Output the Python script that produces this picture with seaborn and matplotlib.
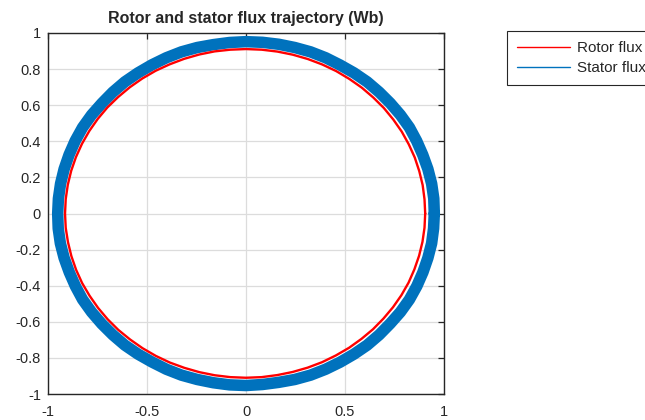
import matplotlib
matplotlib.use('Agg')
import numpy as np
import pandas as pd
import matplotlib.pyplot as plt
import seaborn as sns

angle_deg = list(range(0, 365, 5))
rotor_r = [0.905, 0.905, 0.906, 0.906, 0.907, 0.907, 0.908, 0.908, 0.909, 0.909, 0.910, 0.910,
           0.911, 0.911, 0.911, 0.911, 0.911, 0.911, 0.911, 0.911, 0.912, 0.912, 0.912, 0.912,
           0.913, 0.913, 0.913, 0.913, 0.914, 0.914, 0.914, 0.914, 0.914, 0.914, 0.914, 0.914,
           0.914, 0.914, 0.913, 0.913, 0.913, 0.913, 0.912, 0.912, 0.912, 0.912, 0.911, 0.911,
           0.911, 0.911, 0.910, 0.910, 0.910, 0.910, 0.910, 0.910, 0.909, 0.909, 0.909, 0.909,
           0.908, 0.908, 0.907, 0.907, 0.906, 0.906, 0.906, 0.906, 0.905, 0.905, 0.905, 0.905,
           0.905]
stator_r = [0.951, 0.952, 0.952, 0.951, 0.950, 0.951, 0.953, 0.952, 0.951, 0.951, 0.952, 0.951,
            0.950, 0.952, 0.953, 0.952, 0.952, 0.952, 0.952, 0.951, 0.950, 0.952, 0.953, 0.952,
            0.951, 0.951, 0.952, 0.951, 0.950, 0.952, 0.953, 0.952, 0.951, 0.951, 0.951, 0.951,
            0.951, 0.952, 0.952, 0.951, 0.950, 0.951, 0.953, 0.952, 0.951, 0.951, 0.952, 0.951,
            0.950, 0.952, 0.953, 0.952, 0.952, 0.953, 0.953, 0.951, 0.950, 0.952, 0.953, 0.952,
            0.951, 0.951, 0.952, 0.951, 0.950, 0.952, 0.953, 0.952, 0.951, 0.951, 0.952, 0.951,
            0.951]

x_ticks = [-1, -0.5, 0, 0.5, 1]
x_labels = ['-1', '-0.5', '0', '0.5', '1']
y_ticks = [-1, -0.8, -0.6, -0.4, -0.2, 0, 0.2, 0.4, 0.6, 0.8, 1]
y_labels = ['-1', '-0.8', '-0.6', '-0.4', '-0.2', '0', '0.2', '0.4', '0.6', '0.8', '1']

th = np.deg2rad(angle_deg)
rotor = pd.DataFrame({'alpha': np.array(rotor_r) * np.cos(th), 'beta': np.array(rotor_r) * np.sin(th)})
stator = pd.DataFrame({'alpha': np.array(stator_r) * np.cos(th), 'beta': np.array(stator_r) * np.sin(th)})

sns.set_style('white')
plt.rcParams['font.family'] = ['Liberation Sans', 'DejaVu Sans']

fig = plt.figure(figsize=(6.45, 4.2), dpi=100)
ax = fig.add_axes([48 / 645, 1 - 394 / 420, 396 / 645, 361 / 420])

sns.lineplot(data=stator, x='alpha', y='beta', sort=False, estimator=None, color='#0072BD',
             lw=8.3, label='Stator flux', ax=ax, zorder=2, solid_joinstyle='round')
sns.lineplot(data=rotor, x='alpha', y='beta', sort=False, estimator=None, color='#FF0000',
             lw=1.7, label='Rotor flux', ax=ax, zorder=3, solid_joinstyle='round')

ax.set_xlim(-1, 1)
ax.set_ylim(-1, 1)
ax.set_xticks(x_ticks)
ax.set_xticklabels(x_labels, fontsize=10.5, color='#262626')
ax.set_yticks(y_ticks)
ax.set_yticklabels(y_labels, fontsize=10.5, color='#262626')
ax.set_xlabel('')
ax.set_ylabel('')
ax.grid(True, color='#dcdcdc', lw=0.9)
ax.set_axisbelow(True)
ax.tick_params(direction='in', top=True, right=True, length=4, width=0.9, color='#262626', pad=5)
ax.tick_params(axis='x', pad=8)
for s in ax.spines.values():
    s.set_visible(True)
    s.set_color('#262626')
    s.set_linewidth(1.0)
ax.set_title('Rotor and stator flux trajectory (Wb)', fontsize=11.5, fontweight='bold', pad=7)

handles, labels = ax.get_legend_handles_labels()
order = [labels.index('Rotor flux'), labels.index('Stator flux')]
leg = ax.legend([handles[i] for i in order], [labels[i] for i in order],
                loc='upper left', bbox_to_anchor=(507 / 645, 1 - 31 / 420), bbox_transform=fig.transFigure,
                borderaxespad=0, fontsize=11, frameon=True, fancybox=False, edgecolor='#262626',
                framealpha=1, handlelength=3.5, borderpad=0.65, labelspacing=0.4, handletextpad=0.45)
leg.get_frame().set_linewidth(0.8)
for h in leg.get_lines():
    h.set_linewidth(1.0)

fig.savefig('out.png', dpi=100)
